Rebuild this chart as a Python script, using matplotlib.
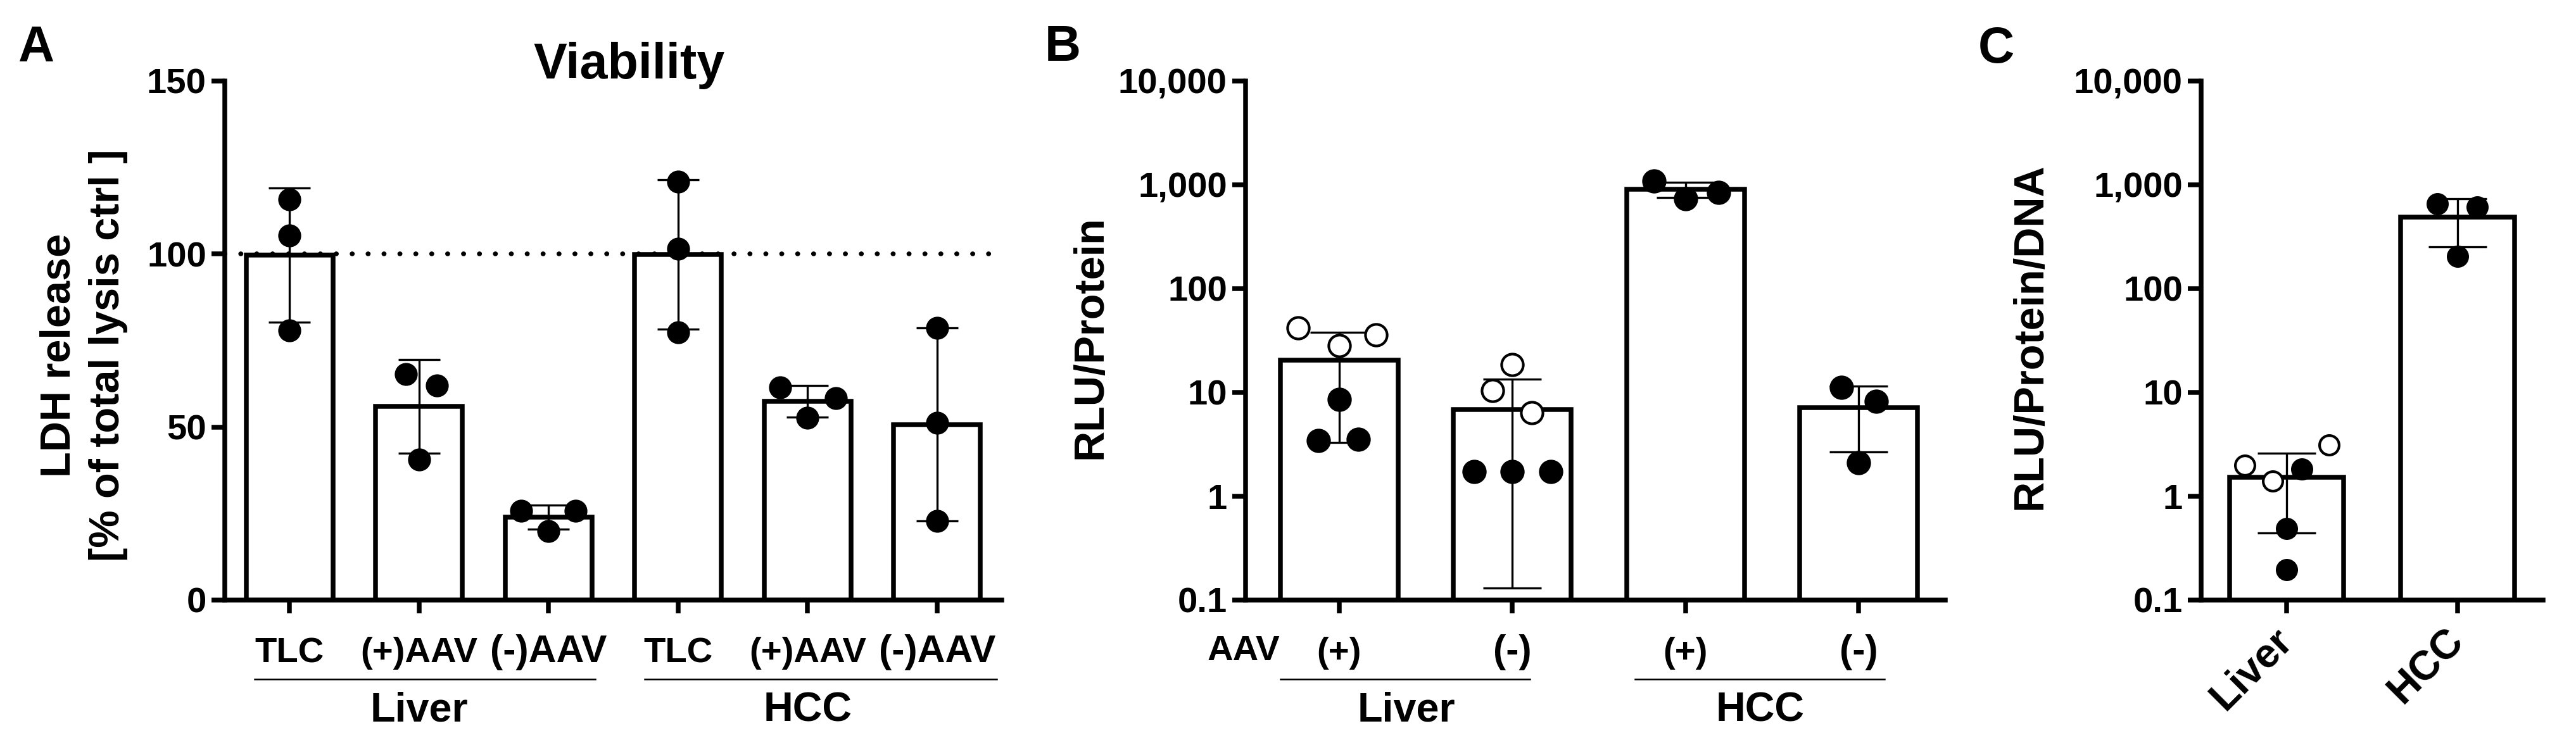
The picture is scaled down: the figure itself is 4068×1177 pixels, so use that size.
import matplotlib
matplotlib.use('Agg')
import matplotlib.pyplot as plt
import matplotlib.transforms as mtransforms
from matplotlib.ticker import NullLocator

# ---------------- data ----------------
# Panel A: LDH release (% of total lysis ctrl)
a_labels = ['TLC', '(+)AAV', '(-)AAV', 'TLC', '(+)AAV', '(-)AAV']
a_mean = [99.7, 56.0, 23.9, 99.8, 57.4, 50.7]
a_sd = [19.4, 13.5, 3.5, 21.6, 4.5, 27.9]
a_points = [[115.7, 105.4, 77.9],
            [65.3, 61.9, 40.5],
            [25.8, 25.8, 19.9],
            [120.8, 101.5, 77.3],
            [61.5, 58.3, 52.6],
            [78.6, 51.2, 22.8]]
a_jitter = [[0, 0, 0],
            [-0.10, 0.14, 0],
            [-0.21, 0.21, 0],
            [0, 0, 0],
            [-0.21, 0.22, 0],
            [0, 0, 0]]
a_groups = ['Liver', 'HCC']
a_reference = 100

# Panel B: RLU/Protein
b_labels = ['(+)', '(-)', '(+)', '(-)']
b_mean = [20.5, 6.8, 903, 7.1]
b_sd = [17.2, 6.67, 150, 4.45]
b_points = [[41.8, 35.7, 28.0, 8.6, 3.42, 3.53],
            [18.4, 10.4, 6.4, 1.73, 1.73, 1.73],
            [1088, 836, 730],
            [11.1, 8.24, 2.11]]
b_open = [[True, True, True, False, False, False],
          [True, True, True, False, False, False],
          [False, False, False],
          [False, False, False]]
b_jitter = [[-0.236, 0.212, 0, 0, -0.121, 0.112],
            [0, -0.115, 0.112, -0.221, 0, 0.224],
            [-0.18, 0.19, 0],
            [-0.10, 0.10, 0]]
b_groups = ['Liver', 'HCC']

# Panel C: RLU/Protein/DNA
c_labels = ['Liver', 'HCC']
c_mean = [1.52, 490]
c_sd = [1.08, 240]
c_points = [[1.99, 1.40, 3.12, 1.82, 0.49, 0.195],
            [655, 608, 205]]
c_open = [[True, True, True, False, False, False],
          [False, False, False]]
c_jitter = [[-0.246, -0.082, 0.249, 0.09, 0, 0],
            [-0.117, 0.115, 0]]

log_ticks = [0.1, 1, 10, 100, 1000, 10000]
log_ticklabels = ['0.1', '1', '10', '100', '1,000', '10,000']

# ---------------- figure ----------------
W, H, DPI = 4068, 1177, 300
plt.rcParams['font.family'] = ['Liberation Sans', 'DejaVu Sans']
plt.rcParams['font.weight'] = 'bold'
fig = plt.figure(figsize=(W / DPI, H / DPI), dpi=DPI)

TOP, BOTTOM = 127.6, 948.0
AX_H = BOTTOM - TOP


def px_axes(left, right):
    return fig.add_axes([left / W, 1 - BOTTOM / H, (right - left) / W, AX_H / H])


def ftext(x, y, s, **kw):
    fig.text(x / W, 1 - y / H, s, **kw)


LW = 1.8
TICK_FS = 13.5
MINUS_FS = 14.6
GROUP_FS = 15.5


def style(ax):
    for s in ['top', 'right']:
        ax.spines[s].set_visible(False)
    for s in ['left', 'bottom']:
        ax.spines[s].set_linewidth(LW)
    ax.tick_params(direction='out', length=5, width=LW, labelsize=TICK_FS, pad=2)
    ax.tick_params(axis='x', pad=18.6)
    for lab in ax.get_yticklabels():
        lab.set_fontweight('bold')


def enlarge_minus(ax):
    for lab in ax.get_xticklabels():
        if '(-)' in lab.get_text():
            lab.set_fontsize(MINUS_FS)


def draw_bars(ax, means, sds, points, jitter, opens, width, capsize, ms):
    x = list(range(len(means)))
    ax.bar(x, means, width=width, color='white', edgecolor='black', linewidth=LW, zorder=2)
    ax.errorbar(x, means, yerr=sds, fmt='none', ecolor='black', elinewidth=0.8,
                capsize=capsize, capthick=0.8, zorder=3)
    for i, (pts, jit) in enumerate(zip(points, jitter)):
        for j, (v, dx) in enumerate(zip(pts, jit)):
            is_open = opens[i][j] if opens is not None else False
            ax.plot(i + dx, v, 'o', ms=ms, mfc='white' if is_open else 'black', mec='black',
                    mew=1.0, zorder=4, clip_on=False)


# ---------- Panel A ----------
axA = px_axes(355, 1582)
axA.axhline(a_reference, color='black', lw=1.8, linestyle=(0, (0.05, 3.3)),
            dash_capstyle='round', zorder=1)
draw_bars(axA, a_mean, a_sd, a_points, a_jitter, None, 0.67, 7.9, 7.7)
axA.set_xlim(-0.5, 5.5)
axA.set_ylim(0, 150)
axA.set_yticks([0, 50, 100, 150])
style(axA)
axA.set_xticks(range(len(a_labels)), a_labels, va='baseline', fontweight='bold', fontsize=TICK_FS)
enlarge_minus(axA)
tA = mtransforms.blended_transform_factory(axA.transData, axA.transAxes)
for (x0, x1), xc, g in zip([(-0.27, 2.36), (2.74, 5.46)], [1, 4], a_groups):
    axA.plot([x0, x1], [-0.1524, -0.1524], color='black', lw=0.6, transform=tA, clip_on=False)
    axA.text(xc, -0.234, g, transform=tA, ha='center', va='baseline', fontsize=GROUP_FS,
             fontweight='bold')

ftext(994, 124, 'Viability', ha='center', va='baseline', fontsize=19, fontweight='bold')
ftext(132, 561, 'LDH release\n[% of total lysis ctrl ]', rotation=90, ha='center', va='center',
      multialignment='center', fontsize=16, fontweight='bold', linespacing=1.33)
ftext(28, 97, 'A', ha='left', va='baseline', fontsize=19, fontweight='bold')

# ---------- Panel B ----------
axB = px_axes(1967, 3072)
draw_bars(axB, b_mean, b_sd, b_points, b_jitter, b_open, 0.68, 11, 8.2)
axB.set_yscale('log')
axB.set_xlim(-0.54, 3.5)
axB.set_ylim(0.1, 10000)
axB.set_yticks(log_ticks, log_ticklabels)
axB.yaxis.set_minor_locator(NullLocator())
style(axB)
axB.set_xticks(range(len(b_labels)), b_labels, va='baseline', fontweight='bold', fontsize=TICK_FS)
enlarge_minus(axB)
tB = mtransforms.blended_transform_factory(axB.transData, axB.transAxes)
axB.text(-0.55, -0.1158, 'AAV', transform=tB, ha='center', va='baseline', fontsize=13.5,
         fontweight='bold')
for (x0, x1), xc, g in zip([(-0.34, 1.10), (1.71, 3.15)], [0.39, 2.43], b_groups):
    axB.plot([x0, x1], [-0.1524, -0.1524], color='black', lw=0.6, transform=tB, clip_on=False)
    axB.text(xc, -0.234, g, transform=tB, ha='center', va='baseline', fontsize=GROUP_FS,
             fontweight='bold')
ftext(1722, 533, 'RLU/Protein', rotation=90, ha='center', va='center', fontsize=16,
      fontweight='bold')
ftext(1650, 96, 'B', ha='left', va='baseline', fontsize=19, fontweight='bold')

# ---------- Panel C ----------
axC = px_axes(3476, 4016)
draw_bars(axC, c_mean, c_sd, c_points, c_jitter, c_open, 0.67, 11, 7.4)
axC.set_yscale('log')
axC.set_xlim(-0.5, 1.5)
axC.set_ylim(0.1, 10000)
axC.set_yticks(log_ticks, log_ticklabels)
axC.yaxis.set_minor_locator(NullLocator())
style(axC)
axC.tick_params(axis='x', pad=8)
axC.set_xticks(range(len(c_labels)), c_labels, rotation=45, ha='right', va='center',
               rotation_mode='anchor', fontweight='bold', fontsize=15.5)
ftext(3207, 531, 'RLU/Protein/DNA', rotation=90, ha='center', va='center', fontsize=16,
      fontweight='bold')
ftext(3124, 99, 'C', ha='left', va='baseline', fontsize=19, fontweight='bold')

fig.savefig('out.png', dpi=DPI, facecolor='white')
